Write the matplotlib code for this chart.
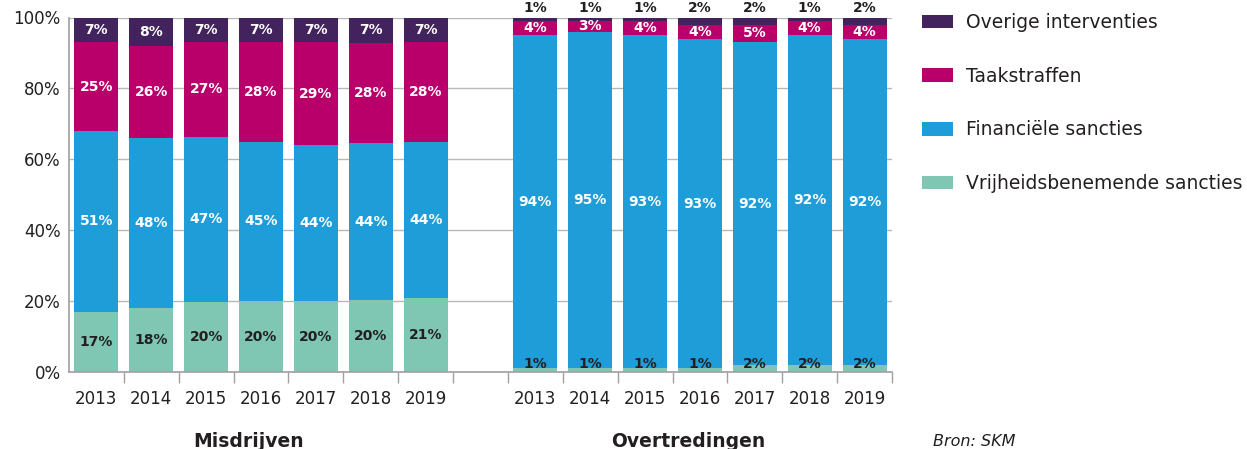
import matplotlib.pyplot as plt
from matplotlib.ticker import FixedLocator, FuncFormatter
import numpy as np

plt.rcParams['font.family'] = 'DejaVu Sans'

years = ['2013', '2014', '2015', '2016', '2017', '2018', '2019']
series = ['Vrijheidsbenemende sancties', 'Financiële sancties', 'Taakstraffen', 'Overige interventies']
colors = ['#7fc6b3', '#1e9dd8', '#b9006a', '#42235e']

# percentages per category, bottom to top
mis_vrij = [17, 18, 20, 20, 20, 20, 21]
mis_fin = [51, 48, 47, 45, 44, 44, 44]
mis_taak = [25, 26, 27, 28, 29, 28, 28]
mis_overig = [7, 8, 7, 7, 7, 7, 7]

ovt_vrij = [1, 1, 1, 1, 2, 2, 2]
ovt_fin = [94, 95, 93, 93, 92, 92, 92]
ovt_taak = [4, 3, 4, 4, 5, 4, 4]
ovt_overig = [1, 1, 1, 2, 2, 1, 2]

groups = [('Misdrijven', [mis_vrij, mis_fin, mis_taak, mis_overig]),
          ('Overtredingen', [ovt_vrij, ovt_fin, ovt_taak, ovt_overig])]

dark = '#231f20'
fig = plt.figure(figsize=(12.47, 4.49), dpi=100)
ax = fig.add_axes([69/1247, 77/449, 823/1247, 354.5/449])

for g, (gname, vals) in enumerate(groups):
    x = np.arange(7) + g*8
    arr = np.array(vals, dtype=float)
    heights = arr / arr.sum(axis=0) * 100
    bottom = np.zeros(7)
    for s in range(4):
        ax.bar(x, heights[s], 0.8, bottom=bottom, color=colors[s],
               label=series[s] if g == 0 else None, zorder=2)
        for i in range(7):
            txt = '%d%%' % vals[s][i]
            if g == 1 and s == 0:
                ax.text(x[i], 0.2, txt, ha='center', va='bottom', color=dark,
                        fontsize=10, fontweight='bold', zorder=3)
            elif g == 1 and s == 3:
                ax.text(x[i], 100.6, txt, ha='center', va='bottom', color=dark,
                        fontsize=10, fontweight='bold', zorder=3, clip_on=False)
            else:
                c = dark if s == 0 else 'white'
                ax.text(x[i], bottom[i] + heights[s][i]/2, txt, ha='center', va='center',
                        color=c, fontsize=10, fontweight='bold', zorder=3)
        bottom += heights[s]

ax.set_xlim(-0.5, 14.5)
ax.set_ylim(0, 100)
ax.set_yticks([0, 20, 40, 60, 80, 100])
ax.yaxis.set_major_formatter(FuncFormatter(lambda v, p: '%d%%' % v))
ax.tick_params(axis='y', length=0, pad=6, labelsize=12, labelcolor=dark)
ax.yaxis.grid(True, color='#b8b8b8', linewidth=1)
ax.set_axisbelow(True)

# boundary ticks, labels at the bar centres
ax.xaxis.set_major_locator(FixedLocator([v + 0.5 for v in range(15)]))
ax.xaxis.set_major_formatter(FuncFormatter(lambda v, p: ''))
ax.xaxis.set_minor_locator(FixedLocator(list(range(7)) + list(range(8, 15))))
ax.set_xticklabels(years + years, minor=True)
ax.tick_params(axis='x', which='major', length=8, width=1, color='#a0a0a0')
ax.tick_params(axis='x', which='minor', length=0, pad=13, labelsize=12, labelcolor=dark)

for sp in ['top', 'right']:
    ax.spines[sp].set_visible(False)
for sp in ['left', 'bottom']:
    ax.spines[sp].set_color('#a0a0a0')
    ax.spines[sp].set_linewidth(1.2)

fig.text(249/1247, 2/449, 'Misdrijven', ha='center', va='baseline',
         fontsize=13.5, fontweight='bold', color=dark)
fig.text(688/1247, 2/449, 'Overtredingen', ha='center', va='baseline',
         fontsize=13.5, fontweight='bold', color=dark)
fig.text(933/1247, 3/449, 'Bron: SKM', ha='left', va='baseline',
         fontsize=11.5, fontstyle='italic', color=dark)

h, l = ax.get_legend_handles_labels()
fig.legend(h[::-1], l[::-1], loc='upper left', bbox_to_anchor=(922/1247, 1 - 13/449),
           frameon=False, fontsize=13.5, handlelength=1.65, handleheight=0.75,
           handletextpad=0.7, labelspacing=1.85, borderpad=0, borderaxespad=0,
           labelcolor=dark)

fig.savefig('out.png', dpi=100)
